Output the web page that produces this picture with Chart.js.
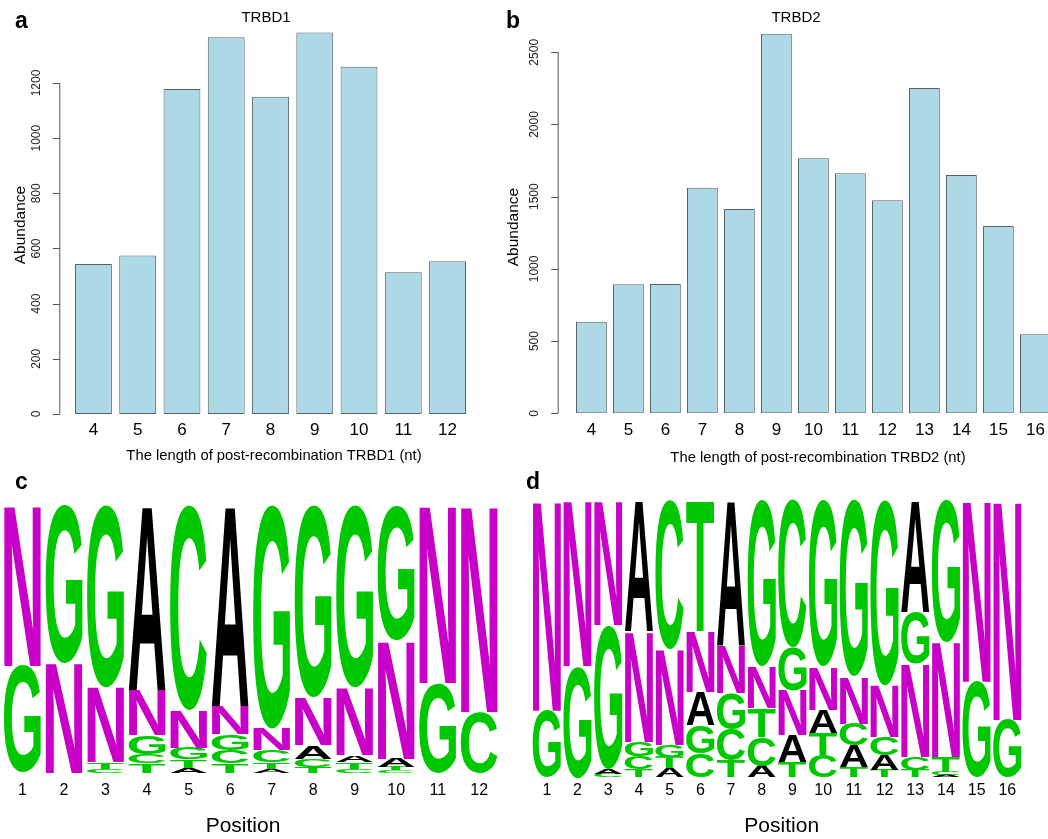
<!DOCTYPE html>
<html>
<head>
<meta charset="utf-8">
<script src="https://cdn.jsdelivr.net/npm/chart.js@4.4.1/dist/chart.umd.min.js"></script>
<style>
html, body { margin: 0; padding: 0; background: #fff; }
#page { position: relative; width: 1048px; height: 839px; overflow: hidden; }
#page canvas { position: absolute; }
.tag { position: absolute; font: bold 23px "Liberation Sans", Arial, sans-serif; line-height: 23px; color: #000; }
</style>
</head>
<body>
<div id="page">
  <canvas id="chart-a" width="520" height="480" style="left:0;top:0"></canvas>
  <canvas id="chart-b" width="570" height="480" style="left:490px;top:0"></canvas>
  <canvas id="logo-c" width="520" height="349" style="left:0;top:490px"></canvas>
  <canvas id="logo-d" width="528" height="349" style="left:520px;top:490px"></canvas>
  <div class="tag" style="left:15px;top:9px">a</div>
  <div class="tag" style="left:506px;top:9px">b</div>
  <div class="tag" style="left:15px;top:470px">c</div>
  <div class="tag" style="left:526px;top:470px">d</div>
</div>
<script>
// panel a / b : length distribution of post-recombination D genes
const lenTRBD1 = ['4', '5', '6', '7', '8', '9', '10', '11', '12'];
const abundTRBD1 = [544, 575, 1178, 1366, 1150, 1383, 1259, 514, 554];
const yTicksTRBD1 = [0, 200, 400, 600, 800, 1000, 1200];

const lenTRBD2 = ['4', '5', '6', '7', '8', '9', '10', '11', '12', '13', '14', '15', '16'];
const abundTRBD2 = [634, 893, 895, 1562, 1415, 2629, 1766, 1662, 1475, 2253, 1650, 1297, 547];
const yTicksTRBD2 = [0, 500, 1000, 1500, 2000, 2500];

// panel c / d : letters per position, bottom -> top, with their frequencies
const posC = ['1', '2', '3', '4', '5', '6', '7', '8', '9', '10', '11', '12'];
const lettersC = ['GN', 'NG', 'CTNG', 'TCGNA', 'ATGNC', 'TCGNA', 'ATCNG', 'TCANG', 'CTANG', 'CTANG', 'GN', 'CN'];
const freqC = [
  [0.40, 0.60],
  [0.41, 0.59],
  [0.015, 0.025, 0.28, 0.68],
  [0.035, 0.035, 0.07, 0.17, 0.69],
  [0.02, 0.03, 0.045, 0.14, 0.765],
  [0.035, 0.05, 0.06, 0.105, 0.75],
  [0.016, 0.025, 0.045, 0.08, 0.834],
  [0.022, 0.031, 0.05, 0.18, 0.717],
  [0.016, 0.025, 0.025, 0.254, 0.68],
  [0.01, 0.012, 0.031, 0.443, 0.504],
  [0.334, 0.666],
  [0.228, 0.772]
];

const posD = ['1', '2', '3', '4', '5', '6', '7', '8', '9', '10', '11', '12', '13', '14', '15', '16'];
const lettersD = ['GN', 'GN', 'CAGN', 'TCGNA', 'ATGNC', 'CGANT', 'TCGNA', 'ACTNG', 'TANGC', 'CTANG', 'TACNG', 'TACNG', 'TCNGA', 'ACTNG', 'GN', 'GN'];
const freqD = [
  [0.24, 0.76],
  [0.40, 0.60],
  [0.012, 0.018, 0.52, 0.45],
  [0.029, 0.046, 0.054, 0.397, 0.474],
  [0.032, 0.042, 0.042, 0.345, 0.539],
  [0.087, 0.10, 0.12, 0.22, 0.473],
  [0.06, 0.113, 0.13, 0.171, 0.526],
  [0.041, 0.106, 0.102, 0.15, 0.601],
  [0.056, 0.096, 0.162, 0.156, 0.53],
  [0.081, 0.078, 0.084, 0.156, 0.601],
  [0.038, 0.078, 0.078, 0.168, 0.638],
  [0.026, 0.054, 0.066, 0.186, 0.668],
  [0.026, 0.048, 0.337, 0.186, 0.403],
  [0.008, 0.012, 0.054, 0.415, 0.511],
  [0.345, 0.655],
  [0.207, 0.793]
];

const letterColor = { A: '#000000', C: '#00c800', G: '#00c800', T: '#00c800', N: '#c800c8' };
const FONT = '"Liberation Sans", Arial, sans-serif';

// R style axes + labels, drawn through the chart's own scales
const rAxes = {
  id: 'rAxes',
  afterDraw(chart, args, o) {
    const ctx = chart.ctx;
    const xs = chart.scales.x, ys = chart.scales.y;
    ctx.save();
    ctx.fillStyle = '#000';
    ctx.textAlign = 'center';
    ctx.textBaseline = 'middle';

    if (o.yTicks) {
      const ax = o.axisX + 0.5;
      ctx.strokeStyle = '#555';
      ctx.lineWidth = 1;
      ctx.beginPath();
      ctx.moveTo(ax, ys.getPixelForValue(o.yTicks[0]));
      ctx.lineTo(ax, ys.getPixelForValue(o.yTicks[o.yTicks.length - 1]));
      o.yTicks.forEach(t => {
        const py = Math.round(ys.getPixelForValue(t)) + 0.5;
        ctx.moveTo(ax, py);
        ctx.lineTo(ax - 7, py);
      });
      ctx.stroke();

      ctx.fillStyle = '#222';
      ctx.font = '12px ' + FONT;
      o.yTicks.forEach(t => {
        ctx.save();
        ctx.translate(o.axisX - 23, ys.getPixelForValue(t));
        ctx.rotate(-Math.PI / 2);
        ctx.fillText(String(t), 0, 0);
        ctx.restore();
      });

      ctx.fillStyle = '#000';
      ctx.font = '15.5px ' + FONT;
      ctx.save();
      ctx.translate(o.yTitleX, o.yTitleY);
      ctx.rotate(-Math.PI / 2);
      ctx.fillText('Abundance', 0, 0);
      ctx.restore();
    }

    if (o.title) {
      ctx.font = '15px ' + FONT;
      ctx.fillText(o.title, o.titleX, o.titleY);
    }

    ctx.font = o.xTickFont + 'px ' + FONT;
    chart.data.labels.forEach((l, i) => {
      ctx.fillText(l, xs.getPixelForValue(i), o.xTickY);
    });

    ctx.font = o.xTitleFont + 'px ' + FONT;
    ctx.fillText(o.xTitle, o.xTitleX, o.xTitleY);
    ctx.restore();
  }
};

// stretch each letter into its stacked bar box
const logoLetters = {
  id: 'logoLetters',
  afterDatasetsDraw(chart) {
    const ctx = chart.ctx;
    ctx.save();
    ctx.font = 'bold 100px ' + FONT;
    ctx.textAlign = 'left';
    ctx.textBaseline = 'alphabetic';
    chart.data.datasets.forEach((ds, i) => {
      chart.getDatasetMeta(i).data.forEach((bar, j) => {
        const ch = ds.letters[j];
        const p = bar.getProps(['x', 'y', 'base', 'width'], true);
        const h = p.base - p.y;
        if (!ch || h < 0.3) return;
        const m = ctx.measureText(ch);
        const gw = m.actualBoundingBoxLeft + m.actualBoundingBoxRight;
        const gh = m.actualBoundingBoxAscent + m.actualBoundingBoxDescent;
        ctx.save();
        ctx.translate(p.x - p.width / 2, p.y);
        ctx.scale(p.width / gw, h / gh);
        ctx.fillStyle = letterColor[ch];
        ctx.fillText(ch, m.actualBoundingBoxLeft, m.actualBoundingBoxAscent);
        ctx.restore();
      });
    });
    ctx.restore();
  }
};

function barChart(id, labels, values, yMax, pad, axisOpts) {
  return new Chart(document.getElementById(id), {
    type: 'bar',
    data: {
      labels: labels,
      datasets: [{
        data: values,
        backgroundColor: '#add8e6',
        borderColor: '#566468',
        borderWidth: 1,
        borderSkipped: false,
        barPercentage: 1 / 1.2,
        categoryPercentage: 1
      }]
    },
    options: {
      responsive: false,
      animation: false,
      layout: { padding: pad },
      scales: {
        x: { display: false },
        y: { display: false, min: 0, max: yMax }
      },
      plugins: { legend: { display: false }, tooltip: { enabled: false }, rAxes: axisOpts }
    },
    plugins: [rAxes]
  });
}

function logoChart(id, labels, letters, freqs, barPct, pad, axisOpts) {
  const depth = Math.max(...letters.map(s => s.length));
  const datasets = [];
  for (let k = 0; k < depth; k++) {
    datasets.push({
      data: freqs.map(f => f[k] || 0),
      letters: letters.map(s => s[k] || ''),
      backgroundColor: 'rgba(0,0,0,0)',
      borderWidth: 0,
      barPercentage: barPct,
      categoryPercentage: 1
    });
  }
  return new Chart(document.getElementById(id), {
    type: 'bar',
    data: { labels: labels, datasets: datasets },
    options: {
      responsive: false,
      animation: false,
      layout: { padding: pad },
      scales: {
        x: { display: false, stacked: true },
        y: { display: false, stacked: true, min: 0, max: 1 }
      },
      plugins: { legend: { display: false }, tooltip: { enabled: false }, rAxes: axisOpts }
    },
    plugins: [logoLetters, rAxes]
  });
}

barChart('chart-a', lenTRBD1, abundTRBD1, 1400,
  { left: 71.3, right: 50.3, top: 27.8, bottom: 66 },
  { yTicks: yTicksTRBD1, axisX: 59.3, yTitleX: 21, yTitleY: 225,
    title: 'TRBD1', titleX: 266, titleY: 17.5,
    xTickY: 430, xTickFont: 17,
    xTitle: 'The length of post-recombination TRBD1 (nt)', xTitleFont: 14.8, xTitleX: 274, xTitleY: 456 });

barChart('chart-b', lenTRBD2, abundTRBD2, 2700,
  { left: 82.9, right: 6.1, top: 23.4, bottom: 66.7 },
  { yTicks: yTicksTRBD2, axisX: 67.7, yTitleX: 24, yTitleY: 227,
    title: 'TRBD2', titleX: 306, titleY: 17.5,
    xTickY: 430, xTickFont: 17,
    xTitle: 'The length of post-recombination TRBD2 (nt)', xTitleFont: 14.8, xTitleX: 328, xTitleY: 458 });

logoChart('logo-c', posC, lettersC, freqC, 0.89,
  { left: 1.75, right: 20, top: 15, bottom: 66 },
  { xTickY: 301, xTickFont: 16, xTitle: 'Position', xTitleFont: 21, xTitleX: 243, xTitleY: 336.7 });

logoChart('logo-d', posD, lettersD, freqD, 0.92,
  { left: 11.5, right: 25.3, top: 10, bottom: 61.7 },
  { xTickY: 301, xTickFont: 16, xTitle: 'Position', xTitleFont: 21, xTitleX: 261.7, xTitleY: 336.7 });
</script>
</body>
</html>
